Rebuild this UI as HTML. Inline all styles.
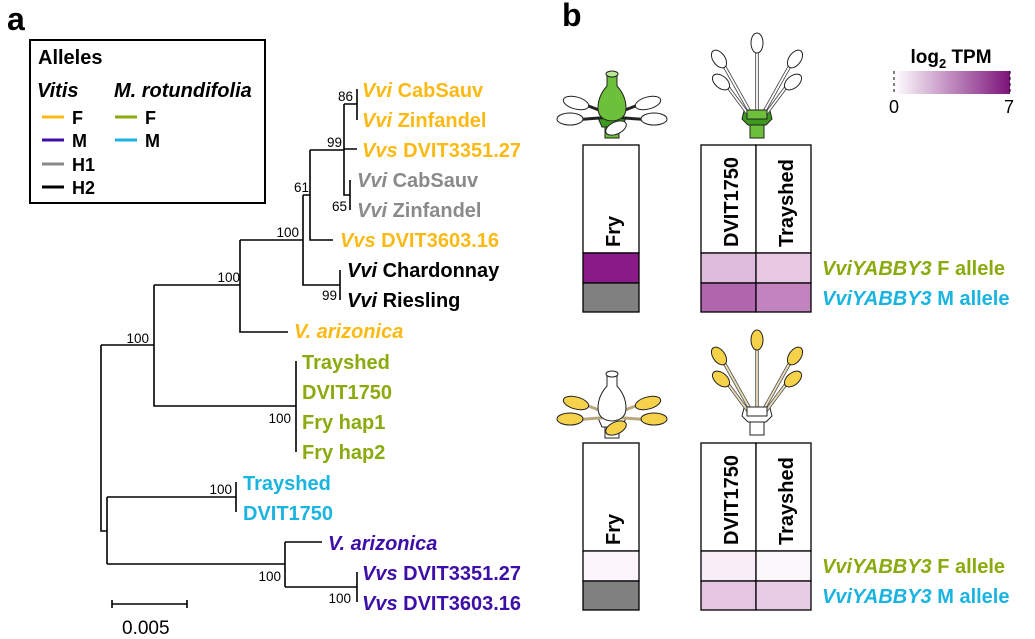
<!DOCTYPE html>
<html><head><meta charset="utf-8"><style>
html,body{margin:0;padding:0;background:#fff;}
svg{display:block;font-family:"Liberation Sans",Arial,sans-serif;}
.b{font-weight:bold;font-size:20px;}
.bs{font-size:13.5px;fill:#000;}
</style></head><body>
<svg width="1035" height="639" viewBox="0 0 1035 639" xmlns="http://www.w3.org/2000/svg">
<defs>
<linearGradient id="cb" x1="0" x2="1"><stop offset="0" stop-color="#ffffff"/><stop offset="1" stop-color="#7d137b"/></linearGradient>
</defs>
<text x="7" y="30" font-size="32" font-weight="bold">a</text>
<text x="562" y="26" font-size="32" font-weight="bold">b</text>
<!-- legend -->
<rect x="30" y="40" width="235" height="163" fill="none" stroke="#000" stroke-width="2"/>
<text x="38" y="64" font-size="20" font-weight="bold">Alleles</text>
<text x="37" y="97" font-size="20" font-weight="bold" font-style="italic">Vitis</text>
<text x="114" y="97" font-size="20" font-weight="bold" font-style="italic">M. rotundifolia</text>
<g stroke-width="3">
<line x1="42" x2="64" y1="117" y2="117" stroke="#fbb914"/>
<line x1="42" x2="64" y1="140" y2="140" stroke="#3d0ea8"/>
<line x1="42" x2="64" y1="164" y2="164" stroke="#8a8a8a"/>
<line x1="42" x2="64" y1="187" y2="187" stroke="#000"/>
<line x1="115" x2="137" y1="117" y2="117" stroke="#8aab0e"/>
<line x1="115" x2="137" y1="140" y2="140" stroke="#1ab4e0"/>
</g>
<g font-size="18" font-weight="bold">
<text x="72" y="124">F</text><text x="72" y="147">M</text><text x="72" y="171">H1</text><text x="72" y="194">H2</text>
<text x="145" y="124">F</text><text x="145" y="147">M</text>
</g>
<!-- tree -->
<g stroke="#000" stroke-width="1.6" fill="none">
<path d="M101 345V531H107M101 345H154M154 285V406H296M296 361V452M154 285H240M240 240V332H288M240 240H303M303 195V285H340M340 270V300M303 195H310M310 150V240H333M310 150H344M344 104V195H350M350 180V210M344 104H357M357 89V120M344 149H357"/>
<path d="M107 497V564M107 497H236M236 482V512M107 564H285M285 542V587M285 542H322M285 587H357M357 572V602"/>
<path d="M112 604H187M112 600V608M187 600V608"/>
</g>
<text x="122" y="634" font-size="19">0.005</text>
<g class="bs">
<text x="353" y="101" text-anchor="end">86</text>
<text x="342" y="147" text-anchor="end">99</text>
<text x="309" y="192" text-anchor="end">61</text>
<text x="347" y="211" text-anchor="end">65</text>
<text x="299" y="237" text-anchor="end">100</text>
<text x="337" y="300" text-anchor="end">99</text>
<text x="240" y="282" text-anchor="end">100</text>
<text x="149" y="343" text-anchor="end">100</text>
<text x="291" y="423" text-anchor="end">100</text>
<text x="232" y="494" text-anchor="end">100</text>
<text x="281" y="581" text-anchor="end">100</text>
<text x="351" y="603" text-anchor="end">100</text>
</g>
<g class="b">
<text x="362" y="97" fill="#fbb914"><tspan font-style="italic">Vvi</tspan> CabSauv</text>
<text x="362" y="127" fill="#fbb914"><tspan font-style="italic">Vvi</tspan> Zinfandel</text>
<text x="362" y="157" fill="#fbb914"><tspan font-style="italic">Vvs</tspan> DVIT3351.27</text>
<text x="357" y="187" fill="#8a8a8a"><tspan font-style="italic">Vvi</tspan> CabSauv</text>
<text x="357" y="217" fill="#8a8a8a"><tspan font-style="italic">Vvi</tspan> Zinfandel</text>
<text x="340" y="247" fill="#fbb914"><tspan font-style="italic">Vvs</tspan> DVIT3603.16</text>
<text x="347" y="277" fill="#000"><tspan font-style="italic">Vvi</tspan> Chardonnay</text>
<text x="347" y="307" fill="#000"><tspan font-style="italic">Vvi</tspan> Riesling</text>
<text x="294" y="338" fill="#fbb914" font-style="italic">V. arizonica</text>
<text x="302" y="369" fill="#8aab0e">Trayshed</text>
<text x="302" y="399" fill="#8aab0e">DVIT1750</text>
<text x="302" y="429" fill="#8aab0e">Fry hap1</text>
<text x="302" y="459" fill="#8aab0e">Fry hap2</text>
<text x="243" y="490" fill="#1ab4e0">Trayshed</text>
<text x="243" y="520" fill="#1ab4e0">DVIT1750</text>
<text x="328" y="550" fill="#3d0ea8" font-style="italic">V. arizonica</text>
<text x="362" y="580" fill="#3d0ea8"><tspan font-style="italic">Vvs</tspan> DVIT3351.27</text>
<text x="362" y="610" fill="#3d0ea8"><tspan font-style="italic">Vvs</tspan> DVIT3603.16</text>
</g>
<!-- colorbar -->
<text x="951" y="63" text-anchor="middle" font-size="19" font-weight="bold">log<tspan font-size="13" dy="5">2</tspan><tspan dy="-5"> TPM</tspan></text>
<rect x="894" y="71" width="116" height="23" fill="url(#cb)"/>
<line x1="894" x2="894" y1="71" y2="94" stroke="#000" stroke-dasharray="3,3"/>
<line x1="1010" x2="1010" y1="71" y2="94" stroke="#000" stroke-dasharray="3,3"/>
<text x="894" y="113" text-anchor="middle" font-size="18">0</text>
<text x="1009" y="113" text-anchor="middle" font-size="18">7</text>
<!-- heatmaps -->
<g stroke="#000" stroke-width="1.3">
<rect x="583" y="145" width="56" height="108" fill="#fff"/>
<rect x="583" y="253" width="56" height="30" fill="#8b1a89"/>
<rect x="583" y="283" width="56" height="29" fill="#808080"/>
<rect x="701" y="145" width="55" height="108" fill="#fff"/>
<rect x="756" y="145" width="55" height="108" fill="#fff"/>
<rect x="701" y="253" width="55" height="30" fill="#dfbcdb"/>
<rect x="756" y="253" width="55" height="30" fill="#e8c9e3"/>
<rect x="701" y="283" width="55" height="29" fill="#b066ad"/>
<rect x="756" y="283" width="55" height="29" fill="#c283bf"/>
<rect x="583" y="443" width="56" height="108" fill="#fff"/>
<rect x="583" y="551" width="56" height="30" fill="#fcf5fb"/>
<rect x="583" y="581" width="56" height="29" fill="#808080"/>
<rect x="701" y="443" width="55" height="108" fill="#fff"/>
<rect x="756" y="443" width="55" height="108" fill="#fff"/>
<rect x="701" y="551" width="55" height="30" fill="#f8eef7"/>
<rect x="756" y="551" width="55" height="30" fill="#fcf7fb"/>
<rect x="701" y="581" width="55" height="29" fill="#e5c5e2"/>
<rect x="756" y="581" width="55" height="29" fill="#e8cbe5"/>
</g>
<g font-size="20" font-weight="bold">
<text transform="translate(620,247) rotate(-90)">Fry</text>
<text transform="translate(738,247) rotate(-90)">DVIT1750</text>
<text transform="translate(793,247) rotate(-90)">Trayshed</text>
<text transform="translate(620,545) rotate(-90)">Fry</text>
<text transform="translate(738,545) rotate(-90)">DVIT1750</text>
<text transform="translate(793,545) rotate(-90)">Trayshed</text>
</g>
<g class="b">
<text x="822" y="275" fill="#8aab0e"><tspan font-style="italic">VviYABBY3</tspan> F allele</text>
<text x="822" y="305" fill="#1ab4e0"><tspan font-style="italic">VviYABBY3</tspan> M allele</text>
<text x="822" y="573" fill="#8aab0e"><tspan font-style="italic">VviYABBY3</tspan> F allele</text>
<text x="822" y="603" fill="#1ab4e0"><tspan font-style="italic">VviYABBY3</tspan> M allele</text>
</g>
<!-- flowers -->
<g stroke="#222" stroke-width="1">
<g>
<rect x="605" y="124" width="14" height="14" fill="#6cc03a"/>
<path d="M598 118H626L622 127H602Z" fill="#3e9a1e"/>
<line x1="612" y1="115" x2="578" y2="102" stroke-width="3"/><line x1="612" y1="117" x2="573" y2="120" stroke-width="3"/>
<line x1="612" y1="115" x2="646" y2="102" stroke-width="3"/><line x1="612" y1="117" x2="651" y2="120" stroke-width="3"/>
<path d="M607 76H617V86Q626 96 626 108Q626 120 612 121Q598 120 598 108Q598 96 607 86Z" fill="#6cc03a"/>
<ellipse cx="612" cy="74" rx="6" ry="3" fill="#b9e89a"/>
<ellipse cx="576" cy="103" rx="13" ry="6" fill="#fff" transform="rotate(15 576 103)"/>
<ellipse cx="570" cy="119" rx="13" ry="6" fill="#fff"/>
<ellipse cx="648" cy="103" rx="13" ry="6" fill="#fff" transform="rotate(-15 648 103)"/>
<ellipse cx="654" cy="119" rx="13" ry="6" fill="#fff"/>
<ellipse cx="616" cy="128" rx="11" ry="6" fill="#fff" transform="rotate(-25 616 128)"/>
</g>
<g>
<rect x="750" y="120" width="14" height="18" fill="#6cc03a"/>
<path d="M744 111H770L772 119L766 125H748L742 119Z" fill="#3e9a1e"/>
<g stroke="#444" stroke-width="3.5"><line x1="757" y1="112" x2="757" y2="50"/><line x1="750" y1="112" x2="722" y2="62"/><line x1="748" y1="114" x2="725" y2="83"/><line x1="764" y1="112" x2="792" y2="62"/><line x1="766" y1="114" x2="789" y2="83"/></g>
<g stroke="#fff" stroke-width="1.8"><line x1="757" y1="112" x2="757" y2="50"/><line x1="750" y1="112" x2="722" y2="62"/><line x1="748" y1="114" x2="725" y2="83"/><line x1="764" y1="112" x2="792" y2="62"/><line x1="766" y1="114" x2="789" y2="83"/></g>
<path d="M747 110H767V119H747Z" fill="#6cc03a"/>
<ellipse cx="757" cy="43" rx="6" ry="10" fill="#fff"/>
<ellipse cx="719" cy="59" rx="6" ry="10" fill="#fff" transform="rotate(-35 719 59)"/>
<ellipse cx="721" cy="82" rx="6" ry="10" fill="#fff" transform="rotate(-50 721 82)"/>
<ellipse cx="795" cy="59" rx="6" ry="10" fill="#fff" transform="rotate(35 795 59)"/>
<ellipse cx="793" cy="82" rx="6" ry="10" fill="#fff" transform="rotate(50 793 82)"/>
</g>
<g transform="translate(0,300)">
<rect x="605" y="124" width="14" height="14" fill="#fff"/>
<path d="M598 118H626L622 127H602Z" fill="#fff"/>
<line x1="612" y1="115" x2="578" y2="102" stroke-width="3" stroke="#b8a77a"/><line x1="612" y1="117" x2="573" y2="120" stroke-width="3" stroke="#b8a77a"/>
<line x1="612" y1="115" x2="646" y2="102" stroke-width="3" stroke="#b8a77a"/><line x1="612" y1="117" x2="651" y2="120" stroke-width="3" stroke="#b8a77a"/>
<path d="M607 76H617V86Q626 96 626 108Q626 120 612 121Q598 120 598 108Q598 96 607 86Z" fill="#fff"/>
<ellipse cx="612" cy="74" rx="6" ry="3" fill="#fff"/>
<ellipse cx="576" cy="103" rx="13" ry="6" fill="#f6d24a" transform="rotate(15 576 103)"/>
<ellipse cx="570" cy="119" rx="13" ry="6" fill="#f6d24a"/>
<ellipse cx="648" cy="103" rx="13" ry="6" fill="#f6d24a" transform="rotate(-15 648 103)"/>
<ellipse cx="654" cy="119" rx="13" ry="6" fill="#f6d24a"/>
<ellipse cx="616" cy="128" rx="11" ry="6" fill="#f6d24a" transform="rotate(-25 616 128)"/>
</g>
<g transform="translate(0,297)">
<rect x="750" y="120" width="14" height="18" fill="#fff"/>
<path d="M744 111H770L772 119L766 125H748L742 119Z" fill="#fff"/>
<g stroke="#555" stroke-width="3.5"><line x1="757" y1="112" x2="757" y2="50"/><line x1="750" y1="112" x2="722" y2="62"/><line x1="748" y1="114" x2="725" y2="83"/><line x1="764" y1="112" x2="792" y2="62"/><line x1="766" y1="114" x2="789" y2="83"/></g>
<g stroke="#eadfb8" stroke-width="1.8"><line x1="757" y1="112" x2="757" y2="50"/><line x1="750" y1="112" x2="722" y2="62"/><line x1="748" y1="114" x2="725" y2="83"/><line x1="764" y1="112" x2="792" y2="62"/><line x1="766" y1="114" x2="789" y2="83"/></g>
<path d="M747 110H767V119H747Z" fill="#fff"/>
<ellipse cx="757" cy="43" rx="6" ry="10" fill="#f6d24a"/>
<ellipse cx="719" cy="59" rx="6" ry="10" fill="#f6d24a" transform="rotate(-35 719 59)"/>
<ellipse cx="721" cy="82" rx="6" ry="10" fill="#f6d24a" transform="rotate(-50 721 82)"/>
<ellipse cx="795" cy="59" rx="6" ry="10" fill="#f6d24a" transform="rotate(35 795 59)"/>
<ellipse cx="793" cy="82" rx="6" ry="10" fill="#f6d24a" transform="rotate(50 793 82)"/>
</g>
</g>
</svg>
</body></html>
